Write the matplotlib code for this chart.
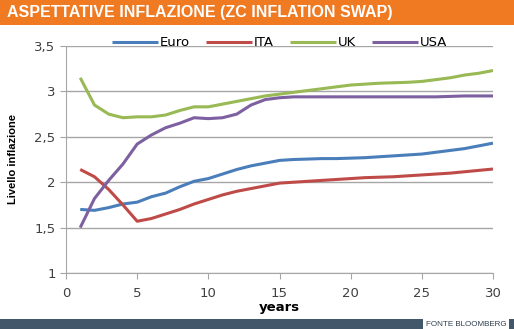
import matplotlib.pyplot as plt
from matplotlib.patches import Rectangle
from matplotlib.ticker import FuncFormatter

# Zero-coupon inflation swap curves by maturity
years = list(range(1, 31))
euro = [1.70, 1.69, 1.72, 1.76, 1.78, 1.84, 1.88, 1.95, 2.01, 2.04,
        2.09, 2.14, 2.18, 2.21, 2.24, 2.25, 2.255, 2.26, 2.26, 2.265,
        2.27, 2.28, 2.29, 2.30, 2.31, 2.33, 2.35, 2.37, 2.40, 2.43]
ita = [2.14, 2.06, 1.92, 1.75, 1.57, 1.60, 1.65, 1.70, 1.76, 1.81,
       1.86, 1.90, 1.93, 1.96, 1.99, 2.00, 2.01, 2.02, 2.03, 2.04,
       2.05, 2.055, 2.06, 2.07, 2.08, 2.09, 2.10, 2.115, 2.13, 2.145]
uk = [3.15, 2.85, 2.75, 2.71, 2.72, 2.72, 2.74, 2.79, 2.83, 2.83,
      2.86, 2.89, 2.92, 2.95, 2.97, 2.99, 3.01, 3.03, 3.05, 3.07,
      3.08, 3.09, 3.095, 3.10, 3.11, 3.13, 3.15, 3.18, 3.20, 3.23]
usa = [1.50, 1.82, 2.02, 2.20, 2.42, 2.52, 2.60, 2.65, 2.71, 2.70,
       2.71, 2.75, 2.85, 2.91, 2.93, 2.94, 2.94, 2.94, 2.94, 2.94,
       2.94, 2.94, 2.94, 2.94, 2.94, 2.94, 2.945, 2.95, 2.95, 2.95]

series = [("Euro", euro, "#4A7EBB"), ("ITA", ita, "#BE4B48"),
          ("UK", uk, "#98B954"), ("USA", usa, "#7D60A0")]

fig = plt.figure(figsize=(5.14, 3.29), dpi=100)

# orange title band
fig.patches.append(Rectangle((0, 1 - 25 / 329), 1, 25 / 329, transform=fig.transFigure,
                             facecolor="#F07A22", edgecolor="none", zorder=0))
fig.text(0.014, 1 - 13 / 329, "ASPETTATIVE INFLAZIONE (ZC INFLATION SWAP)",
         color="white", fontsize=11.5, fontweight="bold", family="Liberation Sans",
         va="center", ha="left")

# footer band with source box
fig.patches.append(Rectangle((0, 0), 1, 10 / 329, transform=fig.transFigure,
                             facecolor="#425769", edgecolor="none", zorder=0))
fig.patches.append(Rectangle((423 / 514, 0), 86 / 514, 12 / 329, transform=fig.transFigure,
                             facecolor="white", edgecolor="none", zorder=1))
fig.text(466 / 514, 5 / 329, "FONTE BLOOMBERG", color="#2E3E4E", fontsize=5.8,
         family="Liberation Sans", ha="center", va="center", zorder=2)

ax = fig.add_axes([66 / 514, 56 / 329, 427 / 514, 227 / 329])
for name, vals, col in series:
    ax.plot(years, vals, color=col, lw=2.2, label=name, solid_capstyle="butt")

ax.set_xlim(0, 30)
ax.set_ylim(1, 3.5)
ax.set_xticks(range(0, 31, 5))
ax.set_yticks([1, 1.5, 2, 2.5, 3, 3.5])
ax.yaxis.set_major_formatter(FuncFormatter(lambda v, p: f"{v:g}".replace(".", ",")))
ax.grid(axis="y", color="#A6A6A6", lw=1)
ax.set_axisbelow(True)
for s in ["top", "right"]:
    ax.spines[s].set_visible(False)
for s in ["left", "bottom"]:
    ax.spines[s].set_color("#A6A6A6")
ax.tick_params(colors="#A6A6A6", labelcolor="#404040", labelsize=9.5, length=4)
ax.tick_params(axis="x", pad=6)

ax.set_xlabel("years", fontsize=9.5, fontweight="bold", labelpad=1)
ax.set_ylabel("Livello inflazione", fontsize=8, fontweight="bold",
              family="Liberation Sans", labelpad=12)

ax.legend(loc="lower center", bbox_to_anchor=(0.5, 0.985), ncol=4, frameon=False,
          fontsize=9.5, handlelength=3.5, handletextpad=0.15, columnspacing=1.2,
          borderpad=0, borderaxespad=0)

fig.savefig("out.png", dpi=100)
